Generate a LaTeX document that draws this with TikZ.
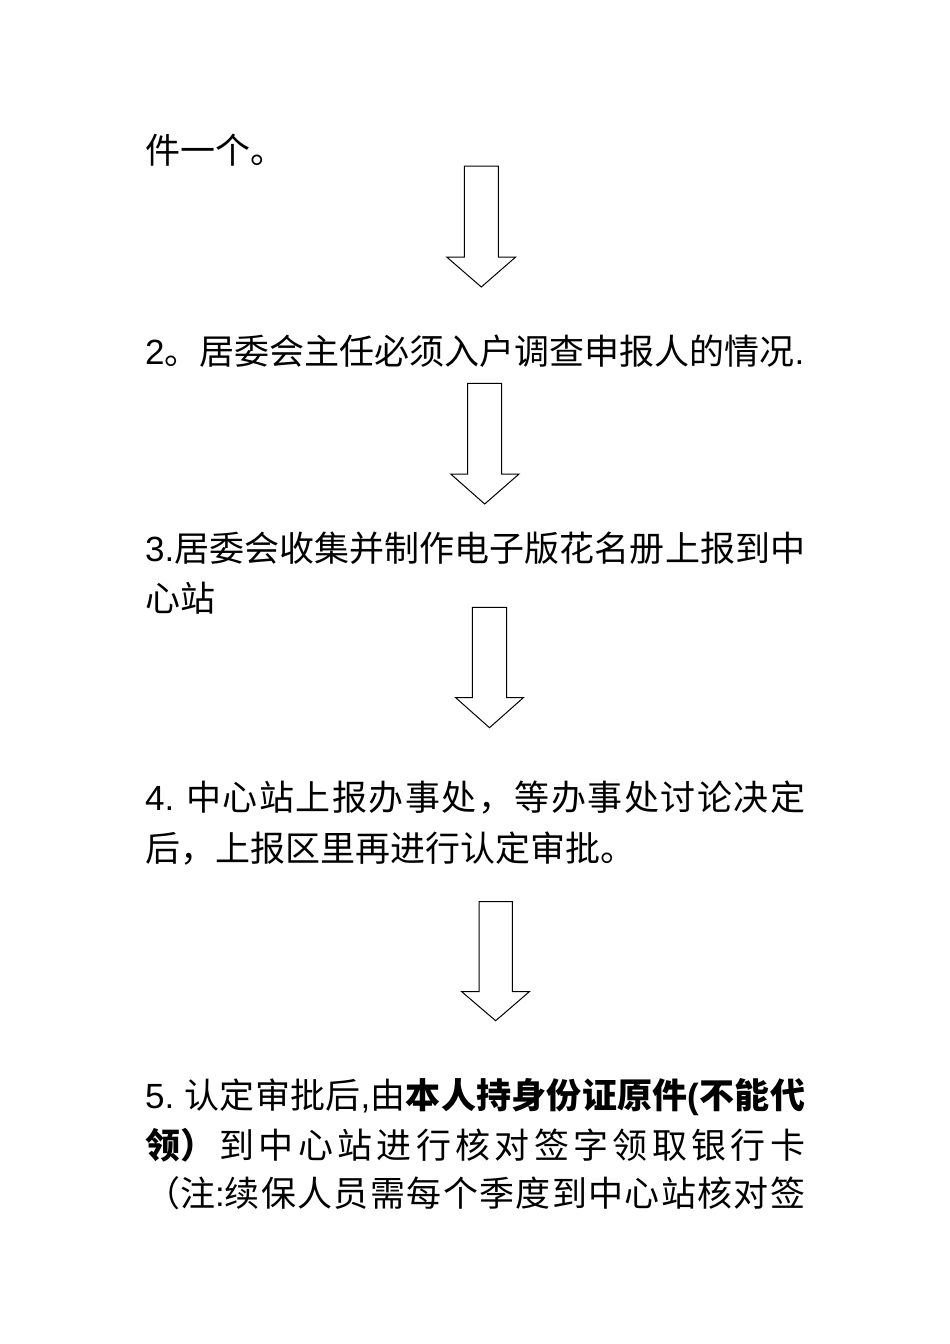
\documentclass[tikz,border=0pt]{standalone}
\usepackage{fontspec}
\setmainfont{Noto Sans CJK SC}
\newfontfamily\lat{Liberation Sans}
\tikzset{
  txt/.style={anchor=base west, inner sep=0pt, font=\fontsize{35pt}{40pt}\selectfont},
  blockarrow/.style={draw=black, line width=1pt, fill=white, line join=miter}
}
\newcommand{\fullline}[1]{\hbox to 660pt{#1}}
\def\spr#1{\sprfirst#1\relax}
\def\sprfirst#1{#1\spraux}
\def\spraux#1{\ifx\relax#1\else\hfil#1\expandafter\spraux\fi}
\newcommand{\blockarr}[8]{%
  \draw[blockarrow] (#1,#3) -- (#2,#3) -- (#2,#4) -- (#6,#4) -- ({(#1+#2)/2},#7)
    -- (#5,#4) -- (#1,#4) -- cycle;}
\begin{document}
\begin{tikzpicture}[x=1pt,y=-1pt]
\useasboundingbox[fill=white] (0,0) rectangle (950,1344);
\node[txt] (l1) at (145,163) {件一个。};
\node[txt] (l2) at (145,364) {\fullline{{\lat 2}。居委会主任必须入户调查申报人的情况{\lat .}}};
\node[txt] (l3a) at (145,561) {\fullline{{\lat 3.}\spr{居委会收集并制作电子版花名册上报到中}}};
\node[txt] (l3b) at (145,611) {心站};
\node[txt] (l4a) at (145,810) {\fullline{{\lat 4.}\hspace{12pt}\spr{中心站上报办事处，等办事处讨论决定}}};
\node[txt] (l4b) at (145,861) {后，上报区里再进行认定审批。};
\node[txt] (l5a) at (145,1108) {\fullline{{\lat 5.}\hspace{10pt}\spr{认定审批后}{\lat ,}由\hfil\textbf{\spr{本人持身份证原件}{\lat\bfseries (}\spr{不能代}}}};
\node[txt] (l5b) at (145,1158) {\fullline{\textbf{领）}\hfil\spr{到中心站进行核对签字领取银行卡}}};
\node[txt] (l5c) at (145,1206) {\fullline{（注{\lat :}\spr{续保人员需每个季度到中心站核对签}}};
\blockarr{464.3}{498.3}{166}{257}{446.7}{515.7}{287}{}
\blockarr{467.7}{501.7}{383.3}{474}{450.7}{519}{504}{}
\blockarr{472.3}{506.7}{607.3}{697.7}{455.7}{523.3}{727.7}{}
\blockarr{479}{512.3}{901.7}{991.7}{461.7}{529.3}{1020.7}{}
\end{tikzpicture}
\end{document}
